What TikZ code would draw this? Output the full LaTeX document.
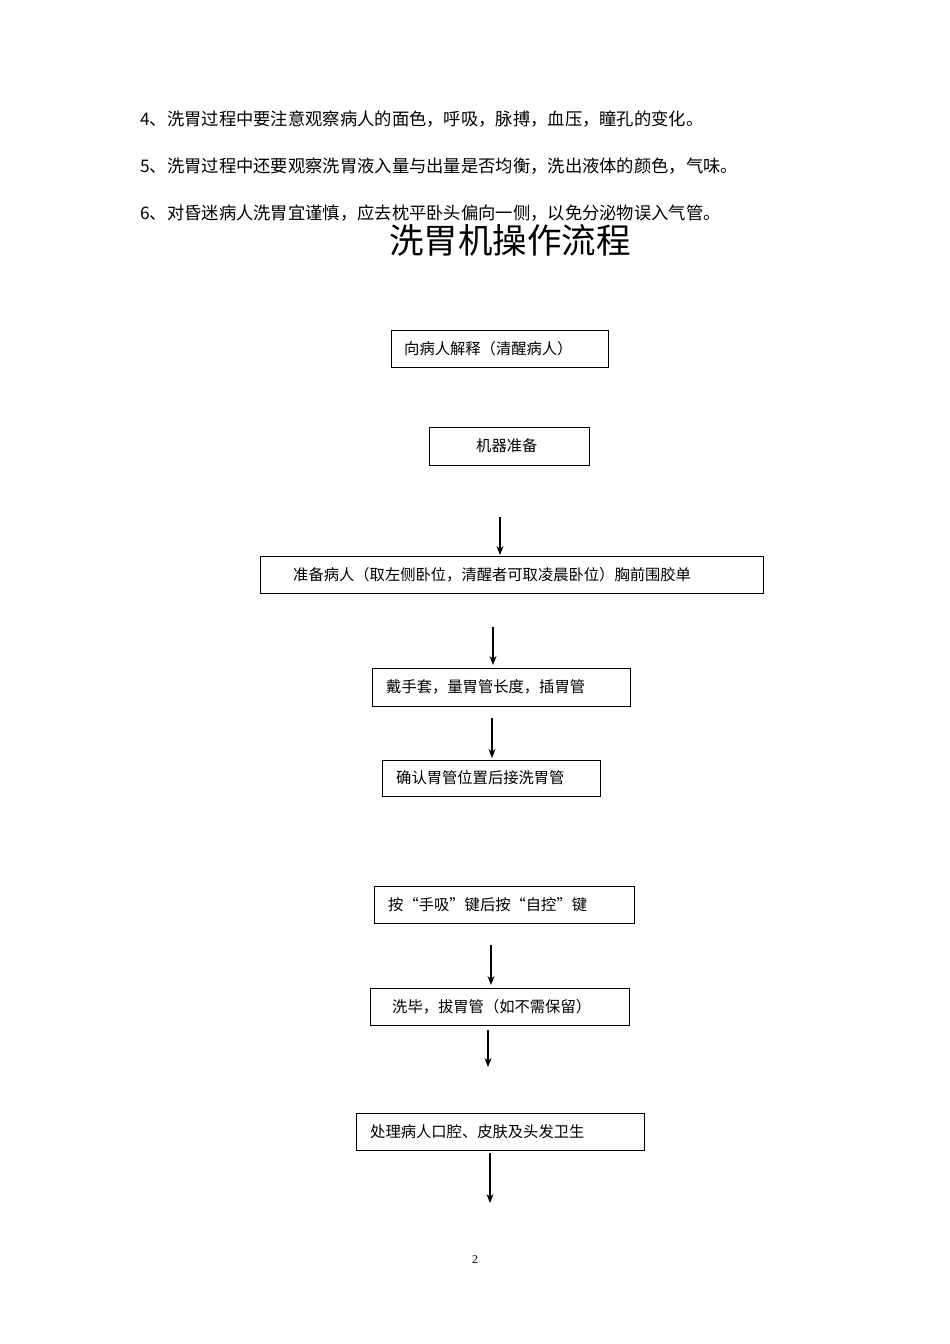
\documentclass[tikz,border=0pt]{standalone}
\usepackage{fontspec}
\usetikzlibrary{arrows.meta}
\setmainfont{Liberation Serif}
\newfontfamily\cjk{Noto Sans CJK SC}
\begin{document}
\begin{tikzpicture}[x=1pt,y=-1pt,
  bx/.style={draw,line width=0.8pt},
  tx/.style={anchor=west,inner sep=0pt,font=\cjk\fontsize{15.3}{17}\selectfont},
  ar/.style={-{Stealth[length=9pt,width=7pt]},line width=1.1pt},
  para/.style={anchor=west,inner sep=0pt,font=\cjk\fontsize{17.3}{19}\selectfont}]
\useasboundingbox[fill=white] (0,0) rectangle (950,1344);
\node[para] (p4) at (140,119) {4、洗胃过程中要注意观察病人的面色，呼吸，脉搏，血压，瞳孔的变化。};
\node[para] (p5) at (140,166) {5、洗胃过程中还要观察洗胃液入量与出量是否均衡，洗出液体的颜色，气味。};
\node[para] (p6) at (140,213) {6、对昏迷病人洗胃宜谨慎，应去枕平卧头偏向一侧，以免分泌物误入气管。};
\node[inner sep=0pt,font=\cjk\fontsize{34.5}{38}\selectfont] (title) at (510,240) {洗胃机操作流程};
\draw[bx] (391,330) rectangle (608,367);
\node[tx] (t1) at (404,348.5) {向病人解释（清醒病人）};
\draw[bx] (429,427) rectangle (589,465);
\node[tx] (t2) at (476,446) {机器准备};
\draw[bx] (260,556) rectangle (763,593);
\node[tx] (t3) at (293,574.5) {准备病人（取左侧卧位，清醒者可取凌晨卧位）胸前围胶单};
\draw[bx] (372,668) rectangle (630,706);
\node[tx] (t4) at (386,687) {戴手套，量胃管长度，插胃管};
\draw[bx] (382,760) rectangle (600,796);
\node[tx] (t5) at (396,778) {确认胃管位置后接洗胃管};
\draw[bx] (374,886) rectangle (634,923);
\node[tx] (t6) at (388,904.5) {按“手吸”键后按“自控”键};
\draw[bx] (370,988) rectangle (629,1025);
\node[tx] (t7) at (392,1006.5) {洗毕，拔胃管（如不需保留）};
\draw[bx] (356,1113) rectangle (644,1150);
\node[tx] (t8) at (370,1131.5) {处理病人口腔、皮肤及头发卫生};
\coordinate (a1s) at (500,517); \coordinate (a1e) at (500,555);
\coordinate (a2s) at (493,627); \coordinate (a2e) at (493,665);
\coordinate (a3s) at (492,718); \coordinate (a3e) at (492,758);
\coordinate (a4s) at (491,945); \coordinate (a4e) at (491,985);
\coordinate (a5s) at (488,1030); \coordinate (a5e) at (488,1067);
\coordinate (a6s) at (490,1153); \coordinate (a6e) at (490,1203);
\foreach \i in {1,...,6} \draw[ar] (a\i s) -- (a\i e);
\node[font=\fontsize{12}{14}\selectfont] (pg) at (475,1260) {2};
\end{tikzpicture}
\end{document}
